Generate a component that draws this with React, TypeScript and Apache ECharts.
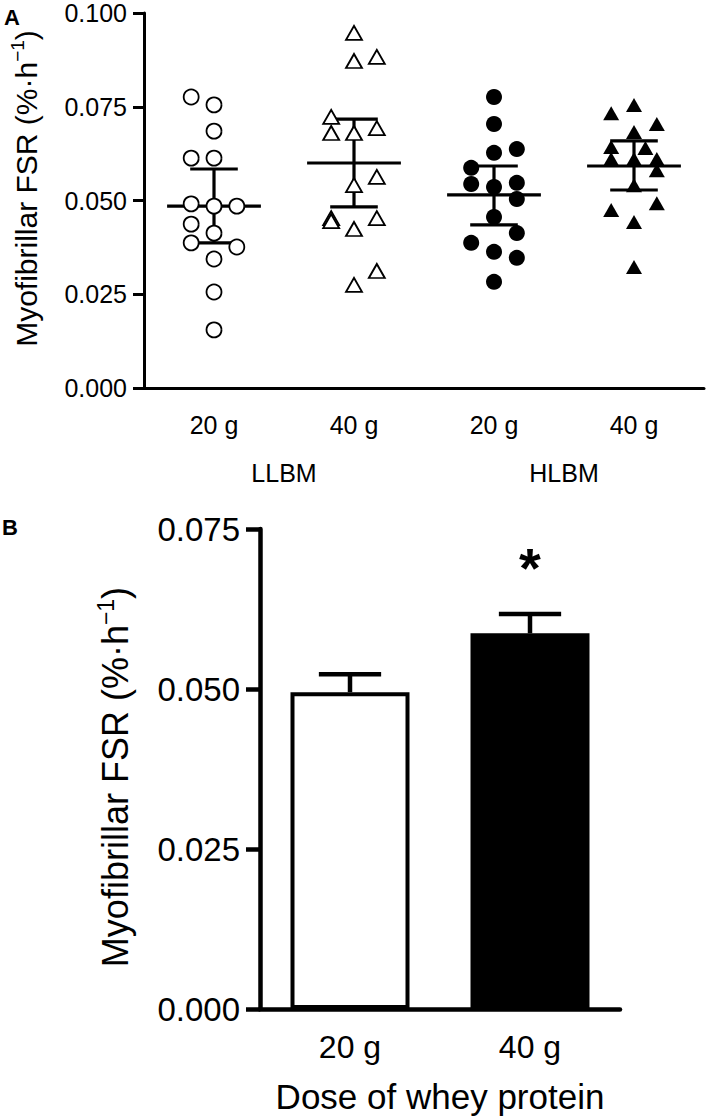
import { useEffect, useRef } from "react";
import * as echarts from "echarts";

// Panel A data
const groupLabels = ["20 g", "40 g", "20 g", "40 g"];
const massLabels = ["LLBM", "HLBM"];

const llbm20 = [0.0776, 0.0755, 0.0685, 0.0613, 0.0613, 0.0491, 0.0485, 0.0485, 0.0437, 0.0413, 0.0387, 0.0376, 0.0344, 0.0256, 0.0155];
const llbm20Col = [-1, 0, 0, -1, 0, -1, 0, 1, -1, 0, -1, 1, 0, 0, 0];
const llbm40 = [0.0947, 0.0883, 0.0872, 0.0723, 0.0693, 0.068, 0.068, 0.0563, 0.0541, 0.0453, 0.0453, 0.0445, 0.0424, 0.0312, 0.0275];
const llbm40Col = [0, 1, 0, -1, 1, -1, 0, 1, 0, -1, 1, -1, 0, 1, 0];
const hlbm20 = [0.0776, 0.0704, 0.0637, 0.0627, 0.0587, 0.0547, 0.0544, 0.0536, 0.0504, 0.0456, 0.0413, 0.0387, 0.0363, 0.0347, 0.0283];
const hlbm20Col = [0, 0, 1, 0, -1, 1, -1, 0, 1, 0, 1, -1, 0, 1, 0];
const hlbm40 = [0.0755, 0.0733, 0.0704, 0.0683, 0.0643, 0.064, 0.0611, 0.0611, 0.0611, 0.0581, 0.0541, 0.0493, 0.0475, 0.0443, 0.0323];
const hlbm40Col = [0, -1, 1, 0, -1, 0.5, -1, 0, 1, 1, 0, 1, -1, 0, 0];

const meanA = [0.0485, 0.06, 0.0515, 0.0592];
const lowA = [0.0387, 0.0483, 0.0435, 0.0528];
const highA = [0.0584, 0.0717, 0.0592, 0.0659];

// Panel B data
const doseLabels = ["20 g", "40 g"];
const meanB = [0.0495, 0.0587];
const semB = [0.0028, 0.003];
const sigB = ["", "*"];

const FONT = "'Liberation Sans', Arial, Helvetica, sans-serif";
const JITTER = 0.163;

export default function App() {
  const ref = useRef<HTMLDivElement>(null);

  useEffect(() => {
    if (!ref.current) return;
    const chart = echarts.init(ref.current, undefined, { renderer: "svg" });

    const toPoints = (vals: number[], cols: number[], g: number) =>
      vals.map((v, k) => [g + cols[k] * JITTER, v]);

    const option: any = {
      animation: false,
      backgroundColor: "#fff",
      textStyle: { fontFamily: FONT, color: "#000" },
      grid: [
        { left: 142, top: 13, width: 562, height: 375 },
        { left: 260, top: 529, width: 360, height: 480 },
      ],
      xAxis: [
        {
          gridIndex: 0,
          type: "category",
          data: groupLabels,
          position: "bottom",
          boundaryGap: true,
          axisLine: { onZero: false, lineStyle: { color: "#000", width: 3 } },
          axisTick: { alignWithLabel: true, length: 12, lineStyle: { color: "#000", width: 3 } },
          axisLabel: { color: "#000", fontSize: 25, margin: 24, fontFamily: FONT },
          splitLine: { show: false },
        },
        { gridIndex: 0, type: "value", min: -0.5, max: 3.5, show: false, axisLine: { onZero: false } },
        {
          gridIndex: 0,
          type: "category",
          data: massLabels,
          position: "bottom",
          axisLine: { show: false, onZero: false },
          axisTick: { show: false },
          axisLabel: { color: "#000", fontSize: 25, margin: 72, fontFamily: FONT },
          splitLine: { show: false },
        },
        {
          gridIndex: 1,
          type: "category",
          data: doseLabels,
          position: "bottom",
          boundaryGap: true,
          axisLine: { onZero: false, lineStyle: { color: "#000", width: 4.5 } },
          axisTick: { alignWithLabel: true, length: 13, lineStyle: { color: "#000", width: 4.5 } },
          axisLabel: { color: "#000", fontSize: 32, margin: 22, fontFamily: FONT },
          name: "Dose of whey protein",
          nameLocation: "middle",
          nameGap: 70,
          nameTextStyle: { fontSize: 35, color: "#000", fontFamily: FONT },
        },
      ],
      yAxis: [
        {
          gridIndex: 0,
          type: "value",
          min: 0,
          max: 0.1,
          interval: 0.025,
          position: "left",
          axisLine: { show: true, onZero: false, lineStyle: { color: "#000", width: 3 } },
          axisTick: { show: true, length: 11, lineStyle: { color: "#000", width: 3 } },
          axisLabel: { color: "#000", fontSize: 25, margin: 17, fontFamily: FONT, formatter: (v: number) => v.toFixed(3) },
          splitLine: { show: false },
          name: "Myofibrillar FSR (%·h{sup|−1})",
          nameLocation: "middle",
          nameRotate: 90,
          nameGap: 100,
          nameTextStyle: {
            fontSize: 30,
            lineHeight: 36,
            color: "#000",
            fontFamily: FONT,
            padding: [0, 0, 0, 24],
            rich: { sup: { fontSize: 19, lineHeight: 19, verticalAlign: "top", color: "#000", fontFamily: FONT } },
          },
        },
        {
          gridIndex: 1,
          type: "value",
          min: 0,
          max: 0.075,
          interval: 0.025,
          position: "left",
          axisLine: { show: true, onZero: false, lineStyle: { color: "#000", width: 4.5 } },
          axisTick: { show: true, length: 14, lineStyle: { color: "#000", width: 4.5 } },
          axisLabel: { color: "#000", fontSize: 33, margin: 20, fontFamily: FONT, formatter: (v: number) => v.toFixed(3) },
          splitLine: { show: false },
          name: "Myofibrillar FSR (%·h{sup|−1})",
          nameLocation: "middle",
          nameRotate: 90,
          nameGap: 124,
          nameTextStyle: {
            fontSize: 36,
            lineHeight: 42,
            color: "#000",
            fontFamily: FONT,
            padding: [0, 16, 0, 0],
            rich: { sup: { fontSize: 23, lineHeight: 23, verticalAlign: "top", color: "#000", fontFamily: FONT } },
          },
        },
      ],
      graphic: [
        { type: "text", left: 4, top: 6, style: { text: "A", fontSize: 22, fontWeight: "bold", fontFamily: FONT, fill: "#000" } },
        { type: "text", left: 2, top: 516, style: { text: "B", fontSize: 22, fontWeight: "bold", fontFamily: FONT, fill: "#000" } },
      ],
      series: [
        {
          type: "custom",
          xAxisIndex: 1,
          yAxisIndex: 0,
          z: 1,
          data: meanA.map((m, i) => [i, m, lowA[i], highA[i]]),
          renderItem: (params: any, api: any) => {
            const x = api.value(0);
            const pm = api.coord([x, api.value(1)]);
            const pl = api.coord([x, api.value(2)]);
            const ph = api.coord([x, api.value(3)]);
            const hm = api.size([0.335, 0])[0];
            const hc = api.size([0.17, 0])[0];
            const st = { stroke: "#000", lineWidth: 3.2 };
            return {
              type: "group",
              children: [
                { type: "line", shape: { x1: pm[0] - hm, y1: pm[1], x2: pm[0] + hm, y2: pm[1] }, style: st },
                { type: "line", shape: { x1: pl[0], y1: pl[1], x2: ph[0], y2: ph[1] }, style: st },
                { type: "line", shape: { x1: pl[0] - hc, y1: pl[1], x2: pl[0] + hc, y2: pl[1] }, style: st },
                { type: "line", shape: { x1: ph[0] - hc, y1: ph[1], x2: ph[0] + hc, y2: ph[1] }, style: st },
              ],
            };
          },
        },
        {
          type: "scatter",
          xAxisIndex: 1,
          yAxisIndex: 0,
          z: 3,
          symbol: "circle",
          symbolSize: 15,
          itemStyle: { color: "#fff", borderColor: "#000", borderWidth: 1.8, opacity: 1 },
          data: toPoints(llbm20, llbm20Col, 0),
        },
        {
          type: "scatter",
          xAxisIndex: 1,
          yAxisIndex: 0,
          z: 3,
          symbol: "triangle",
          symbolSize: [16, 14],
          itemStyle: { color: "#fff", borderColor: "#000", borderWidth: 1.8, opacity: 1 },
          data: toPoints(llbm40, llbm40Col, 1),
        },
        {
          type: "scatter",
          xAxisIndex: 1,
          yAxisIndex: 0,
          z: 3,
          symbol: "circle",
          symbolSize: 16,
          itemStyle: { color: "#000", opacity: 1 },
          data: toPoints(hlbm20, hlbm20Col, 2),
        },
        {
          type: "scatter",
          xAxisIndex: 1,
          yAxisIndex: 0,
          z: 3,
          symbol: "triangle",
          symbolSize: [16, 14],
          itemStyle: { color: "#000", opacity: 1 },
          data: toPoints(hlbm40, hlbm40Col, 3),
        },
        {
          type: "bar",
          xAxisIndex: 3,
          yAxisIndex: 1,
          barWidth: 119,
          z: 2,
          data: meanB.map((v, i) => ({
            value: v,
            itemStyle: { color: i === 0 ? "#fff" : "#000", borderColor: "#000", borderWidth: 4 },
          })),
        },
        {
          type: "custom",
          xAxisIndex: 3,
          yAxisIndex: 1,
          z: 3,
          data: meanB.map((m, i) => [i, m, m + semB[i]]),
          renderItem: (params: any, api: any) => {
            const i = api.value(0);
            const pm = api.coord([i, api.value(1)]);
            const ph = api.coord([i, api.value(2)]);
            const hc = api.size([1, 0])[0] * 0.173;
            const st = { stroke: "#000", lineWidth: 4.5 };
            const children: any[] = [
              { type: "line", shape: { x1: pm[0], y1: pm[1], x2: ph[0], y2: ph[1] }, style: st },
              { type: "line", shape: { x1: ph[0] - hc, y1: ph[1], x2: ph[0] + hc, y2: ph[1] }, style: st },
            ];
            const mark = sigB[params.dataIndex];
            if (mark) {
              children.push({
                type: "text",
                style: {
                  text: mark,
                  x: ph[0],
                  y: ph[1] - 47,
                  fontSize: 56,
                  fontWeight: "bold",
                  fontFamily: FONT,
                  fill: "#000",
                  align: "center",
                  verticalAlign: "middle",
                },
              });
            }
            return { type: "group", children };
          },
        },
      ],
    };

    chart.setOption(option);
    return () => chart.dispose();
  }, []);

  return (
    <div
      ref={ref}
      style={{ position: "absolute", left: 0, top: 0, width: 709, height: 1119, background: "#fff" }}
    />
  );
}
